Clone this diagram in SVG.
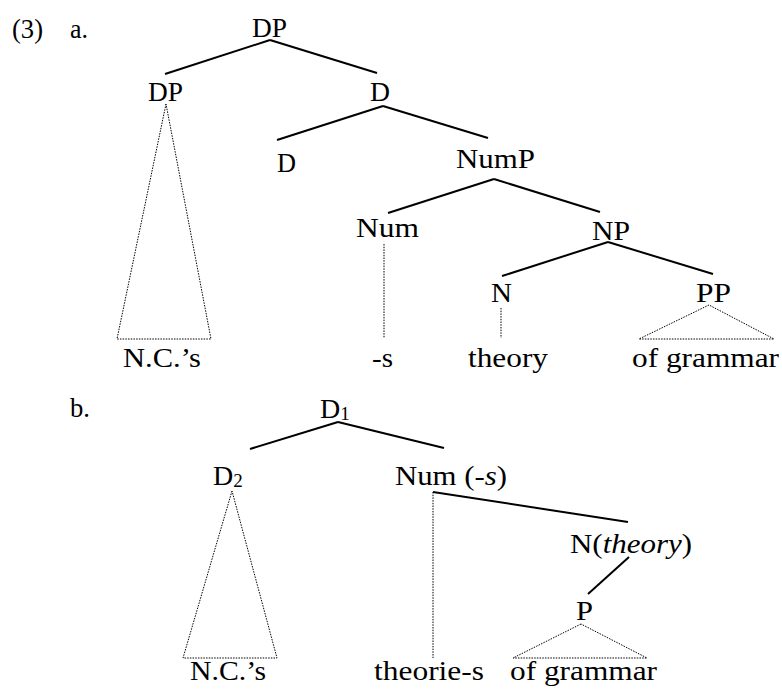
<svg xmlns="http://www.w3.org/2000/svg" width="782" height="697" viewBox="0 0 782 697" font-family="Liberation Serif, Times New Roman, serif" font-size="28">
<style>
text{fill:#000}
.e{stroke:#000;stroke-width:2;fill:none}
.d{stroke:#000;stroke-width:1;stroke-dasharray:1.5 1.2;fill:none}
.sub{font-size:19px}
</style>
<rect width="782" height="697" fill="#fff"/>
<g id="labels">
<text x="12" y="38" textLength="31" lengthAdjust="spacingAndGlyphs">(3)</text>
<text x="70" y="38" textLength="18" lengthAdjust="spacingAndGlyphs">a.</text>
<text x="70" y="417" textLength="20" lengthAdjust="spacingAndGlyphs">b.</text>
</g>
<g id="connectors">
<line class="e" x1="270" y1="40" x2="165" y2="74"/>
<line class="e" x1="270" y1="40" x2="377" y2="73"/>
<line class="e" x1="383" y1="106" x2="277" y2="140"/>
<line class="e" x1="383" y1="106" x2="488" y2="138"/>
<line class="e" x1="494" y1="179" x2="388" y2="213"/>
<line class="e" x1="494" y1="179" x2="600" y2="212"/>
<line class="e" x1="608" y1="242" x2="502" y2="276"/>
<line class="e" x1="608" y1="242" x2="713" y2="274"/>
<polygon class="d" points="166,104 117,339 211,339"/>
<line class="d" x1="384" y1="244" x2="384" y2="338"/>
<line class="d" x1="501" y1="308" x2="501" y2="338"/>
<polygon class="d" points="709,305 639,339 774,339"/>
<line class="e" x1="338" y1="422" x2="250" y2="449"/>
<line class="e" x1="338" y1="422" x2="444" y2="448"/>
<line class="e" x1="433" y1="492" x2="628" y2="522"/>
<line class="e" x1="629" y1="557" x2="588" y2="594"/>
<polygon class="d" points="232,491 183,658 277,658"/>
<line class="d" x1="433" y1="492" x2="433" y2="658"/>
<polygon class="d" points="581,624 513,658 647,658"/>
</g>
<g id="n-dp"><text x="252" y="37" textLength="35" lengthAdjust="spacingAndGlyphs">DP</text></g>
<g id="n-dp2"><text x="148" y="101" textLength="35" lengthAdjust="spacingAndGlyphs">DP</text></g>
<g id="n-dbar"><text x="370" y="101" textLength="20" lengthAdjust="spacingAndGlyphs">D</text></g>
<g id="n-d"><text x="277" y="172" textLength="19" lengthAdjust="spacingAndGlyphs">D</text></g>
<g id="n-nump"><text x="456" y="168" textLength="79" lengthAdjust="spacingAndGlyphs">NumP</text></g>
<g id="n-num"><text x="356" y="237" textLength="63" lengthAdjust="spacingAndGlyphs">Num</text></g>
<g id="n-np"><text x="592" y="240" textLength="38" lengthAdjust="spacingAndGlyphs">NP</text></g>
<g id="n-n"><text x="491" y="302" textLength="21" lengthAdjust="spacingAndGlyphs">N</text></g>
<g id="n-pp"><text x="696" y="302" textLength="35" lengthAdjust="spacingAndGlyphs">PP</text></g>
<g id="n-nc"><text x="123" y="367" textLength="78" lengthAdjust="spacingAndGlyphs">N.C.’s</text></g>
<g id="n-s"><text x="372" y="367" textLength="21" lengthAdjust="spacingAndGlyphs">-s</text></g>
<g id="n-theory"><text x="468" y="367" textLength="80" lengthAdjust="spacingAndGlyphs">theory</text></g>
<g id="n-ofg"><text x="632" y="367" textLength="147" lengthAdjust="spacingAndGlyphs">of grammar</text></g>
<g id="n-d1"><text x="320" y="418">D<tspan class="sub" dy="2">1</tspan></text></g>
<g id="n-d2"><text x="213" y="485">D<tspan class="sub" dy="2">2</tspan></text></g>
<g id="n-nums"><text x="395" y="485" textLength="112" lengthAdjust="spacingAndGlyphs">Num (<tspan font-style="italic">-s</tspan>)</text></g>
<g id="n-ntheory"><text x="570" y="553" textLength="122" lengthAdjust="spacingAndGlyphs">N(<tspan font-style="italic">theory</tspan>)</text></g>
<g id="n-p"><text x="576" y="620" textLength="17" lengthAdjust="spacingAndGlyphs">P</text></g>
<g id="n-nc2"><text x="190" y="680" textLength="76" lengthAdjust="spacingAndGlyphs">N.C.’s</text></g>
<g id="n-theories"><text x="374" y="680" textLength="110" lengthAdjust="spacingAndGlyphs">theorie-s</text></g>
<g id="n-ofg2"><text x="510" y="680" textLength="147" lengthAdjust="spacingAndGlyphs">of grammar</text></g>
</svg>
